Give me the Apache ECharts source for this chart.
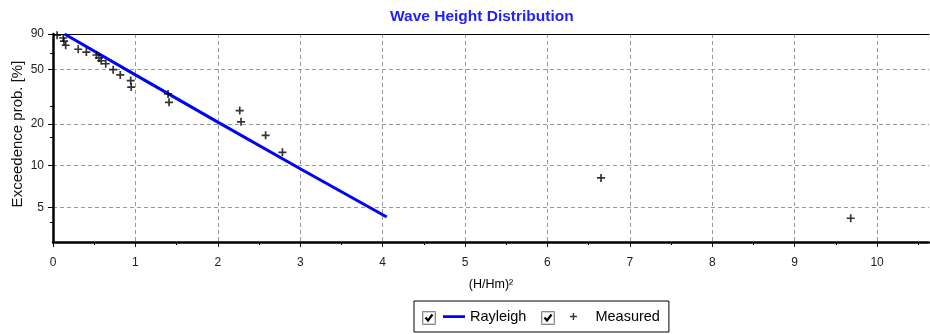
<!DOCTYPE html>
<html><head><meta charset="utf-8">
<script src="https://cdn.jsdelivr.net/npm/echarts@6/dist/echarts.min.js"></script>
<style>html,body{margin:0;padding:0;background:#fff}#c{width:930px;height:334px}</style>
</head><body><div id="c"></div>
<script>
const xTicks = [0, 1, 2, 3, 4, 5, 6, 7, 8, 9, 10];
const yTicks = [5, 10, 20, 50, 90];
const yMinorTicks = [3.9, 16, 27, 65];
const rayleighX = [0.14, 1, 2, 3, 4.05];
const rayleighY = [90, 45.5, 20.7, 9.5, 4.25];
const measuredX = [0.05, 0.124, 0.133, 0.154, 0.306, 0.405, 0.527, 0.558, 0.585, 0.64, 0.73, 0.816, 0.943, 0.949, 1.396, 1.408, 2.266, 2.282, 2.58, 2.784, 6.65, 9.68];
const measuredY = [88.2, 84.2, 79.8, 74.6, 69.8, 66.6, 63.4, 60.3, 57.6, 54.8, 49.6, 45.5, 41.4, 37.1, 33.1, 28.8, 25.1, 20.8, 16.6, 12.5, 8.15, 4.16];

const FONT = 'Arial, "Liberation Sans", sans-serif';
const LINE_ICON = 'path://M0,0h0.01v0.01h-0.01z M0,5.8h22v2.6h-22z M21.99,13.99h0.01v0.01h-0.01z';
const PLUS_ICON = 'path://M0,0h0.01v0.01h-0.01z M4.3,3.5h1.4v7h-1.4z M1.5,6.3h7v1.4h-7z M21.99,13.99h0.01v0.01h-0.01z';
const PLUS_SYMBOL = 'path://M3.15,0H4.85V8H3.15Z M0,3.15H8V4.85H0Z';

function checkbox(x) {
  return {
    type: 'group', left: x, top: 310, z: 100,
    children: [
      {type: 'rect', shape: {x: 0.5, y: 0.5, width: 13, height: 13}, style: {fill: '#fff', stroke: '#8a8a8a', lineWidth: 1}},
      {type: 'rect', shape: {x: 1.5, y: 1.5, width: 11, height: 11}, style: {fill: null, stroke: '#d4d4d4', lineWidth: 1}},
      {type: 'polyline', shape: {points: [[3.5, 6.5], [6, 9.5], [10.5, 3.5]]}, style: {stroke: '#000', lineWidth: 2.2, fill: null}}
    ]
  };
}

const chart = echarts.init(document.getElementById('c'), null, {renderer: 'canvas'});
chart.setOption({
  animation: false,
  backgroundColor: '#fff',
  title: {
    text: 'Wave Height Distribution',
    left: 385, top: 4,
    textStyle: {fontFamily: FONT, fontSize: 15.5, fontWeight: 'bold', color: '#1f1fff'}
  },
  grid: {left: 53, right: 1, top: 34, bottom: 92, show: false, outerBoundsMode: 'none', containLabel: false},
  xAxis: [{
    type: 'value', min: 0, max: 10.63,
    name: '(H/Hm)\u00b2', nameLocation: 'middle', nameGap: 36,
    nameTextStyle: {fontFamily: FONT, fontSize: 12.5, color: '#000'},
    axisLine: {show: true, lineStyle: {color: '#000', width: 2.5}},
    axisTick: {show: true, customValues: xTicks, length: 5, lineStyle: {color: '#000'}},
    minorTick: {show: true, splitNumber: 4, length: 3, lineStyle: {color: '#000'}},
    axisLabel: {customValues: xTicks, margin: 15, fontFamily: FONT, fontSize: 12, color: '#222'},
    splitLine: {show: true, lineStyle: {color: '#999', type: [4, 3], width: 1}}
  }, {
    type: 'value', min: 0, max: 10.63, position: 'top',
    axisLine: {show: true, onZero: false, lineStyle: {color: '#000', width: 1}},
    axisTick: {show: false}, axisLabel: {show: false}, splitLine: {show: false}
  }],
  yAxis: [{
    type: 'log', logBase: 10, min: 2.8, max: 90,
    name: 'Exceedence prob. [%]', nameLocation: 'middle', nameGap: 28, nameMoveOverlap: false,
    nameTextStyle: {fontFamily: FONT, fontSize: 15, color: '#111', padding: [0, 0, 0, 8]},
    axisLine: {show: true, lineStyle: {color: '#000', width: 2.5}},
    axisTick: {show: true, customValues: yTicks, length: 5, lineStyle: {color: '#000'}},
    axisLabel: {customValues: yTicks, margin: 9, fontFamily: FONT, fontSize: 12, color: '#222'},
    splitLine: {show: true, lineStyle: {color: '#999', type: [4, 3], width: 1}}
  }, {
    type: 'log', logBase: 10, min: 2.8, max: 90, position: 'left',
    axisLine: {show: false},
    axisTick: {show: true, customValues: yMinorTicks, length: 3, lineStyle: {color: '#000'}},
    axisLabel: {show: false},
    splitLine: {show: false}
  }],
  legend: {
    left: 414, top: 301, orient: 'horizontal',
    padding: [8, 9, 8, 29],
    borderColor: '#000', borderWidth: 1,
    itemWidth: 22, itemHeight: 14, itemGap: 42,
    selectedMode: false,
    textStyle: {fontFamily: FONT, fontSize: 14.5, color: '#000'},
    data: [{name: 'Rayleigh', icon: LINE_ICON}, {name: 'Measured', icon: PLUS_ICON}]
  },
  graphic: [checkbox(421), checkbox(540)],
  series: [{
    name: 'Rayleigh', type: 'line',
    data: rayleighX.map((x, i) => [x, rayleighY[i]]),
    showSymbol: false, symbol: 'none',
    itemStyle: {color: '#0000ff'},
    lineStyle: {color: '#0000ff', width: 3},
    z: 3
  }, {
    name: 'Measured', type: 'scatter',
    data: measuredX.map((x, i) => [x, measuredY[i]]),
    symbol: PLUS_SYMBOL, symbolSize: 8,
    itemStyle: {color: '#000'},
    z: 4
  }]
});
</script>
</body></html>
